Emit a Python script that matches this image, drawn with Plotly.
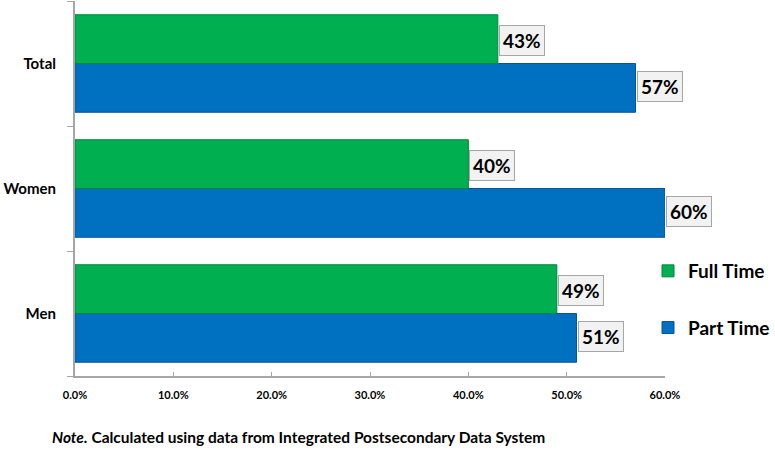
import plotly.graph_objects as go

categories = ["Men", "Women", "Total"]
full_time = [0.49, 0.40, 0.43]
part_time = [0.51, 0.60, 0.57]
full_labels = ["49%", "40%", "43%"]
part_labels = ["51%", "60%", "57%"]
x_ticks = [0, 0.1, 0.2, 0.3, 0.4, 0.5, 0.6]
x_ticklabels = ["0.0%", "10.0%", "20.0%", "30.0%", "40.0%", "50.0%", "60.0%"]

FONT = "Lato"
L, R, T, B = 75, 109, 1, 74
W, H = 775, 450
pw, ph = W - L - R, H - T - B

fig = go.Figure()
fig.add_trace(go.Bar(
    y=categories, x=part_time, orientation="h", name="Part Time",
    marker=dict(color="#0070c0", line=dict(color="#0b5394", width=1)),
    legendgroup="b", legendrank=2, hoverinfo="skip",
))
fig.add_trace(go.Bar(
    y=categories, x=full_time, orientation="h", name="Full Time",
    marker=dict(color="#00b050", line=dict(color="#00843d", width=1)),
    legendgroup="a", legendrank=1, hoverinfo="skip",
))

label_style = dict(showarrow=False, xanchor="left", yanchor="middle", xshift=1,
                   font=dict(family=FONT, size=19, color="black", weight="bold"),
                   bgcolor="#f2f2f2", bordercolor="#a6a6a6", borderwidth=1, borderpad=3)
annotations = []
for cat, v, t in zip(categories, full_time, full_labels):
    annotations.append(dict(x=v, y=cat, xref="x", yref="y", text=t, yshift=23, **label_style))
for cat, v, t in zip(categories, part_time, part_labels):
    annotations.append(dict(x=v, y=cat, xref="x", yref="y", text=t, yshift=-23, **label_style))

annotations.append(dict(
    x=(50 - L) / pw, y=(H - B - 437) / ph, xref="paper", yref="paper", showarrow=False,
    text="<i>Note.</i> Calculated using data from Integrated Postsecondary Data System",
    font=dict(family=FONT, size=15.5, color="black", weight="bold"),
    xanchor="left", yanchor="middle",
))

fig.update_layout(
    width=W, height=H,
    margin=dict(l=L, r=R, t=T, b=B),
    paper_bgcolor="white", plot_bgcolor="white",
    barmode="group", bargap=0.22, bargroupgap=0.0,
    font=dict(family=FONT, color="black"),
    showlegend=True,
    legend=dict(
        x=(648 - L) / pw, y=(H - B - 252) / ph, xanchor="left", yanchor="top",
        traceorder="grouped", tracegroupgap=29,
        font=dict(family=FONT, size=19, color="black", weight="bold"),
        itemwidth=30, bgcolor="rgba(0,0,0,0)",
    ),
    annotations=annotations,
)
fig.update_xaxes(
    range=[0, 0.6], tickvals=x_ticks, ticktext=x_ticklabels,
    showgrid=False, zeroline=False, showline=True, linecolor="#a6a6a6", linewidth=2,
    ticks="inside", ticklen=4, tickcolor="#a6a6a6", ticklabelstandoff=8,
    tickfont=dict(family=FONT, size=11, color="black", weight="bold"),
    fixedrange=True,
)
fig.update_yaxes(
    showgrid=False, zeroline=False, showline=True, linecolor="#a6a6a6", linewidth=2,
    ticks="outside", ticklen=6, tickcolor="#a6a6a6", tickson="boundaries",
    ticklabelstandoff=14,
    tickfont=dict(family=FONT, size=15, color="black", weight="bold"),
    fixedrange=True,
)

fig.write_html("out.html", config={"displayModeBar": False},
               post_script="document.body.style.margin='0';")
